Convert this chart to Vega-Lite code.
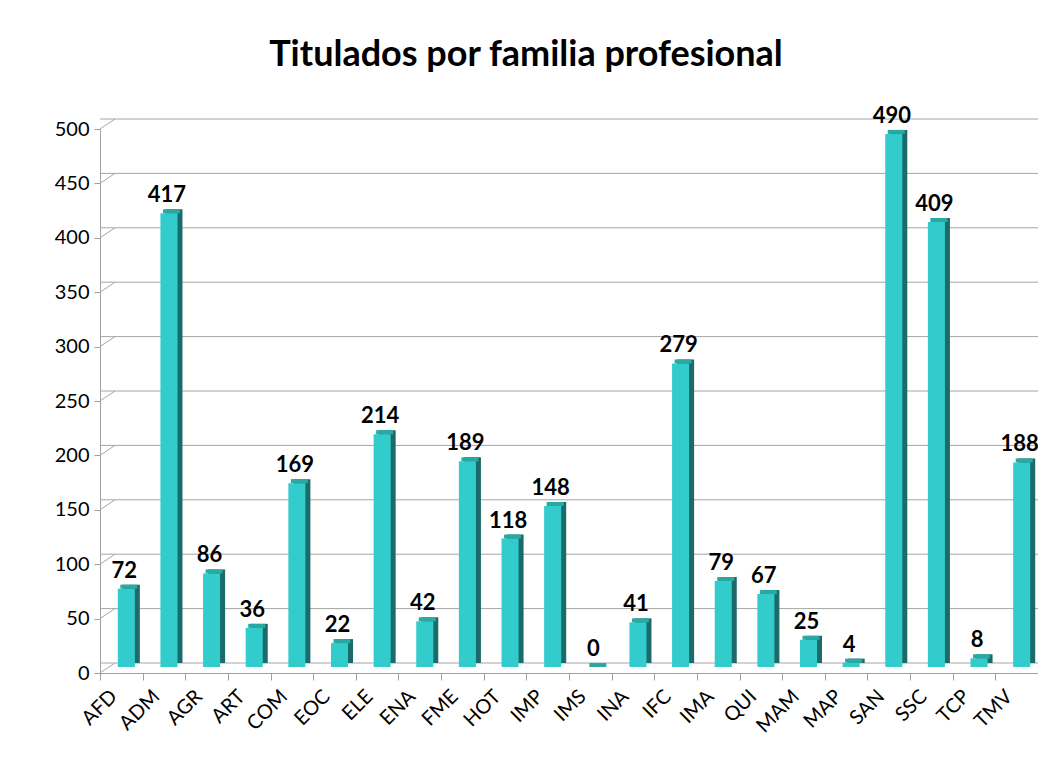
{
  "$schema": "https://vega.github.io/schema/vega-lite/v6.json",
  "autosize": "none",
  "width": 938,
  "height": 544,
  "padding": {"left": 100, "top": 129, "right": 0, "bottom": 101},
  "background": "white",
  "config": {
    "view": {"stroke": null},
    "font": "Lato"
  },
  "title": {
    "text": "Titulados por familia profesional",
    "font": "Lato",
    "fontSize": 36,
    "fontWeight": "bold",
    "color": "#000000",
    "anchor": "middle",
    "dx": -43,
    "offset": 31
  },
  "datasets": {
    "bars": [
      {"familia": "AFD", "titulados": 72},
      {"familia": "ADM", "titulados": 417},
      {"familia": "AGR", "titulados": 86},
      {"familia": "ART", "titulados": 36},
      {"familia": "COM", "titulados": 169},
      {"familia": "EOC", "titulados": 22},
      {"familia": "ELE", "titulados": 214},
      {"familia": "ENA", "titulados": 42},
      {"familia": "FME", "titulados": 189},
      {"familia": "HOT", "titulados": 118},
      {"familia": "IMP", "titulados": 148},
      {"familia": "IMS", "titulados": 0},
      {"familia": "INA", "titulados": 41},
      {"familia": "IFC", "titulados": 279},
      {"familia": "IMA", "titulados": 79},
      {"familia": "QUI", "titulados": 67},
      {"familia": "MAM", "titulados": 25},
      {"familia": "MAP", "titulados": 4},
      {"familia": "SAN", "titulados": 490},
      {"familia": "SSC", "titulados": 409},
      {"familia": "TCP", "titulados": 8},
      {"familia": "TMV", "titulados": 188}
    ],
    "grid": [
      {"v": 0}, {"v": 50}, {"v": 100}, {"v": 150}, {"v": 200}, {"v": 250},
      {"v": 300}, {"v": 350}, {"v": 400}, {"v": 450}, {"v": 500}
    ]
  },
  "encoding": {
    "x": {
      "field": "familia",
      "type": "nominal",
      "sort": null,
      "scale": {"domain": ["AFD","ADM","AGR","ART","COM","EOC","ELE","ENA","FME","HOT","IMP","IMS","INA","IFC","IMA","QUI","MAM","MAP","SAN","SSC","TCP","TMV"], "paddingInner": 0, "paddingOuter": 0},
      "axis": {
        "title": null,
        "tickBand": "extent",
        "labelAngle": -45,
        "labelFont": "Lato",
        "labelFontSize": 20,
        "labelColor": "#000000",
        "labelOffset": -15,
        "labelPadding": 6,
        "domainColor": "#A0A0A0",
        "tickColor": "#A0A0A0",
        "tickSize": 7,
        "grid": false
      }
    },
    "y": {
      "field": "titulados",
      "type": "quantitative",
      "scale": {"domain": [0, 500], "nice": false},
      "axis": {
        "title": null,
        "values": [0, 50, 100, 150, 200, 250, 300, 350, 400, 450, 500],
        "labelFont": "Lato",
        "labelFontSize": 20,
        "labelColor": "#000000",
        "labelPadding": 5,
        "domainColor": "#A0A0A0",
        "tickColor": "#A0A0A0",
        "tickSize": 6,
        "grid": false
      }
    }
  },
  "layer": [
    {
      "data": {"name": "grid"},
      "mark": {"type": "rule", "color": "#A6A6A6", "strokeWidth": 1, "xOffset": 15, "yOffset": -10},
      "encoding": {
        "x": null,
        "y": {"field": "v", "type": "quantitative"}
      }
    },
    {
      "data": {"name": "grid"},
      "mark": {"type": "rule", "color": "#A6A6A6", "strokeWidth": 1, "x2Offset": 15, "y2Offset": -10},
      "encoding": {
        "x": {"datum": "AFD", "bandPosition": 0},
        "x2": {"datum": "AFD", "bandPosition": 0},
        "y": {"field": "v", "type": "quantitative"},
        "y2": {"field": "v"}
      }
    },
    {
      "data": {"name": "grid"},
      "transform": [{"filter": "datum.v === 0"}],
      "mark": {"type": "rule", "color": "#A6A6A6", "strokeWidth": 1, "xOffset": 15, "yOffset": -10, "y2Offset": -10, "x2Offset": 15},
      "encoding": {
        "x": {"datum": "AFD", "bandPosition": 0},
        "x2": {"datum": "AFD", "bandPosition": 0},
        "y": {"datum": 0, "type": "quantitative"},
        "y2": {"datum": 500}
      }
    },
    {
      "data": {"name": "bars"},
      "mark": {"type": "bar", "color": "#1B6B6B", "width": {"band": 0.4}, "xOffset": 10, "yOffset": -10, "y2Offset": -10},
      "encoding": {}
    },
    {
      "data": {"name": "bars"},
      "mark": {"type": "tick", "color": "#2AA8A2", "size": 17, "thickness": 4, "xOffset": 7.5, "yOffset": -8, "opacity": 1},
      "encoding": {}
    },
    {
      "data": {"name": "bars"},
      "mark": {"type": "bar", "color": "#33CCCC", "width": {"band": 0.4}, "xOffset": 5, "yOffset": -6, "y2Offset": -6},
      "encoding": {}
    },
    {
      "data": {"name": "bars"},
      "mark": {"type": "text", "font": "Lato", "fontSize": 22, "fontWeight": "bold", "color": "#000000", "baseline": "alphabetic", "align": "center", "xOffset": 3, "yOffset": -6, "dy": -11},
      "encoding": {
        "text": {"field": "titulados", "type": "quantitative"}
      }
    }
  ]
}
